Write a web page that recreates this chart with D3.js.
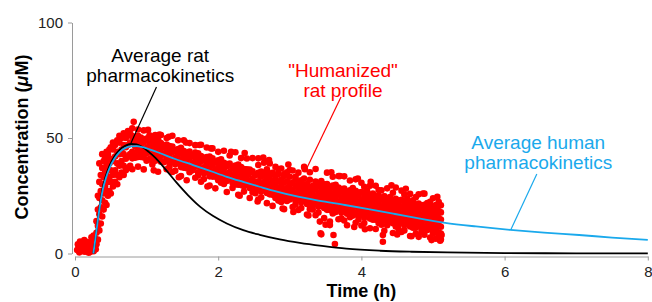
<!DOCTYPE html>
<html>
<head>
<meta charset="utf-8">
<script src="https://cdn.jsdelivr.net/npm/d3@7"></script>
<style>
  body { margin: 0; background: #fff; }
  svg { display: block; font-family: "Liberation Sans", Arial, Helvetica, sans-serif; }
</style>
</head>
<body>
<svg id="chart" width="652" height="302"></svg>
<script>
const xTicks = [0, 2, 4, 6, 8];
const yTicks = [0, 50, 100];

// average rat PK curve (black): [time h, conc uM]
const ratPK = [
  [0.256, 0], [0.29, 7.5], [0.317, 14.5], [0.35, 21.5], [0.387, 28.5], [0.43, 33.5],
  [0.48, 37.8], [0.55, 42], [0.62, 44.8], [0.7, 46.6], [0.78, 47.4], [0.86, 47.2],
  [0.945, 46], [1.03, 44], [1.13, 41.2], [1.27, 36.2], [1.41, 31], [1.58, 25.2],
  [1.75, 20.2], [1.93, 16.2], [2.12, 13], [2.35, 10.1], [2.58, 8.1], [2.86, 6.1],
  [3.14, 4.6], [3.45, 3.3], [3.79, 2.1], [4.26, 1.2], [4.7, 0.75], [5.2, 0.45],
  [6, 0.2], [7, 0.08], [8, 0.04]
];

// average human PK curve (blue)
const humanPK = [
  [0.256, 0], [0.29, 7.5], [0.317, 14], [0.35, 21], [0.387, 27.5], [0.43, 32.5],
  [0.48, 36.8], [0.55, 41], [0.62, 43.8], [0.7, 45.6], [0.78, 46.4], [0.86, 46.5],
  [0.95, 46], [1.05, 45], [1.19, 43.4], [1.41, 40.8], [1.65, 38.3], [1.9, 35.6],
  [2.12, 33.2], [2.35, 31], [2.58, 28.9], [2.82, 26.8], [3.07, 24.9], [3.4, 22.9],
  [3.77, 21], [4.1, 19.2], [4.47, 17.1], [4.8, 15.2], [5.17, 13.3], [5.6, 11.7],
  [6.08, 10.2], [6.55, 9], [7.04, 8], [7.5, 6.9], [8, 5.9]
];

// "humanized" rat samples before dosing: [time, conc]
const predoseSamples = [
  [0.03, 1.5], [0.05, 3], [0.06, 0.5], [0.07, 5.2], [0.08, 2], [0.09, 4.5], [0.11, 1],
  [0.12, 3.5], [0.13, 5.8], [0.14, 0.8], [0.15, 2.5], [0.17, 5], [0.18, 1.5], [0.19, 0.4],
  [0.2, 3.2], [0.21, 0.6], [0.22, 4], [0.23, 7], [0.24, 2], [0.25, 5.5], [0.26, 1],
  [0.27, 3], [0.28, 6.5], [0.29, 1.8], [0.04, 4], [0.1, 2.8], [0.16, 3.8], [0.26, 7.8]
];

// "humanized" rat samples: [time, conc, conc, ...]
const humanizedSamples = [
  [0.30, 4, 9, 14], [0.32, 6, 12, 19, 25], [0.34, 10, 17, 24, 31, 39], [0.36, 13, 20, 27, 34],
  [0.38, 16, 23, 30, 37, 43], [0.40, 19, 26, 33, 40], [0.42, 22, 29, 35, 41],
  [0.44, 21, 27, 34, 39, 44], [0.46, 25, 31, 37, 43], [0.48, 27, 33, 39, 45],
  [0.50, 26, 31, 36, 41, 46], [0.53, 29, 34, 40, 45, 48], [0.56, 31, 36, 42, 47],
  [0.59, 30, 34, 39, 44, 49], [0.62, 33, 38, 43, 48, 51], [0.65, 35, 40, 45, 50],
  [0.68, 34, 38, 43, 47, 52], [0.71, 36, 41, 46, 50], [0.74, 37, 42, 47, 51, 53],
  [0.77, 38, 43, 48, 52],
  [0.80, 36.5, 41.2, 44, 48.3, 50.8, 54.2], [0.84, 41.5, 42.5, 46.4, 49.1, 50.2],
  [0.88, 37.6, 41.8, 44.6, 47.5, 50.9, 53.7], [0.92, 41.8, 43.1, 46.8, 49.4, 50.2],
  [0.96, 36.4, 41.6, 44.9, 48.2, 53.3], [1.00, 40.2, 43.4, 45.8, 49.8, 49.3],
  [1.04, 40.9, 40.7, 44.2, 47.3, 51.2], [1.08, 38.5, 42.9, 45.6, 48.7, 50.6],
  [1.12, 40.1, 41.3, 44.5, 47.1, 51.3], [1.16, 35.4, 40.8, 43.2, 46.4, 49.3, 49],
  [1.20, 39.7, 42.2, 45.3, 47.8, 51.3], [1.24, 39.5, 39.8, 43.1, 46.2, 46.4],
  [1.28, 36.5, 41.1, 44.3, 47.2, 50], [1.32, 37.6, 39.3, 42.4, 45.6, 46.5],
  [1.36, 35.3, 40.4, 43.8, 46.3, 51], [1.40, 35.8, 38.6, 41.4, 44.7, 44.6],
  [1.44, 39.4, 39.7, 42.8, 45.2, 49], [1.48, 33.5, 37.4, 40.6, 43.5, 45.8],
  [1.52, 37.1, 38.8, 41.7, 44.3, 49], [1.56, 31.7, 36.9, 40.2, 43.4, 43.6],
  [1.60, 35.2, 37.8, 41.3, 44.1, 47.8], [1.64, 36, 36.3, 39.2, 42.3, 42.2],
  [1.68, 32.8, 37.6, 40.3, 43.7, 46.9], [1.72, 33.8, 35.2, 38.4, 41.6, 43.4],
  [1.76, 31.1, 36.4, 39.7, 42.2, 47.1], [1.80, 32.2, 34.7, 37.3, 40.8, 41.4],
  [1.84, 35.2, 35.6, 38.7, 41.8, 45.9], [1.88, 29.4, 33.4, 36.8, 40.1, 42],
  [1.92, 33.3, 35.1, 38.2, 41.2, 45.5], [1.96, 28.2, 33.2, 36.3, 39.4, 39.6],
  [2.00, 31.7, 34.2, 37.1, 40.3, 44], [2.04, 30.6, 32.1, 35.4, 38.6, 40.8],
  [2.08, 30.1, 33.6, 36.7, 39.3, 44.5], [2.12, 26.6, 31.4, 34.6, 37.8, 38.7],
  [2.16, 32.5, 32.8, 35.3, 38.9, 42.4], [2.20, 28.4, 30.6, 33.8, 36.9, 37.2],
  [2.24, 29.9, 31.7, 34.9, 38.1, 43.8], [2.28, 25.4, 29.8, 33.2, 36.2, 38.5],
  [2.32, 29.6, 30.9, 34.1, 37.4, 41.3], [2.36, 26.8, 29.1, 32.3, 35.7, 36.6],
  [2.40, 29.9, 30.2, 33.6, 36.4, 41.1], [2.44, 24, 28.4, 31.6, 34.8, 36.3],
  [2.48, 26.5, 29.6, 32.4, 35.6, 41.3], [2.52, 26.1, 27.7, 30.8, 33.9, 34.1],
  [2.56, 23.4, 28.6, 31.3, 34.9, 38.3, 41.2], [2.60, 24.3, 26.8, 30.2, 33.2, 35.5],
  [2.64, 27.6, 27.9, 30.9, 34.1, 39.3], [2.68, 21.8, 26.2, 29.4, 32.6, 35.3, 36.5],
  [2.72, 25.6, 27.2, 30.4, 33.3, 39], [2.76, 20.6, 25.4, 28.7, 31.4, 34.8, 34.9],
  [2.80, 24, 26.7, 29.6, 32.7, 37.5], [2.84, 22.9, 24.8, 28.1, 31.2, 34.3, 36.4],
  [2.88, 22.3, 25.8, 29.2, 31.9, 36.8], [2.92, 19.2, 24.2, 27.4, 30.6, 33.6, 34.4],
  [2.96, 22.7, 25.2, 28.3, 31.3, 35.2], [3.00, 23.4, 23.7, 26.6, 29.8, 33.2, 36.1],
  [3.04, 20.1, 24.6, 27.7, 30.7, 35.9], [3.08, 21.2, 22.8, 26.1, 29.2, 32.1, 33.2],
  [3.12, 18.8, 23.9, 27.2, 30.1, 35], [3.16, 19.7, 22.2, 25.3, 28.4, 31.6, 31.6],
  [3.20, 22.9, 23.3, 26.4, 29.6, 32.4, 37.5], [3.24, 16.9, 21.4, 24.6, 27.7, 30.1],
  [3.28, 19.2, 22.3, 25.6, 28.7, 31.9, 35.2], [3.32, 19.1, 20.7, 23.8, 26.8, 29.3],
  [3.36, 16.6, 21.6, 24.8, 28.1, 31.2, 36.6], [3.40, 17.7, 20.2, 23.2, 26.3, 29.4, 30.4],
  [3.44, 21, 21.1, 24.3, 27.4, 31.4], [3.48, 15.3, 19.7, 22.6, 25.7, 28.8, 30],
  [3.52, 18.9, 20.6, 23.8, 26.9, 30.1, 35], [3.56, 13.8, 18.8, 22.1, 25.2, 28.3, 28.2],
  [3.60, 17.3, 19.9, 23.1, 26.1, 29.4, 33.2], [3.64, 18, 18.3, 21.2, 24.4, 27.6, 29.7],
  [3.68, 14.8, 19.2, 22.4, 25.6, 28.6, 33.5], [3.72, 15.2, 17.7, 20.6, 23.7, 26.8, 27.9],
  [3.76, 14.3, 18.6, 21.8, 24.8, 28.1, 33.4], [3.80, 12.2, 17.2, 20.2, 23.3, 26.4, 26.6],
  [3.84, 15.7, 18.1, 21.3, 24.6, 27.4, 31.6], [3.88, 16.4, 16.6, 19.7, 22.7, 25.9, 28.3],
  [3.92, 13.3, 17.6, 20.8, 23.9, 27.1, 32.1], [3.96, 14.7, 16.2, 19.1, 22.2, 25.4, 26.4],
  [4.00, 12.1, 17.1, 20.4, 23.4, 26.6, 30.6], [4.04, 13.2, 15.6, 18.7, 21.6, 24.9, 28.9],
  [4.08, 16.4, 16.7, 19.8, 22.9, 26.1, 27.2], [4.12, 10.9, 15.1, 18.2, 21.2, 24.3, 29.3],
  [4.16, 14.6, 16.2, 19.4, 22.6, 25.6, 25.9], [4.20, 10.6, 14.6, 17.6, 20.7, 23.9, 29.3],
  [4.24, 13.2, 15.7, 18.9, 22.1, 25.2, 27.5], [4.28, 12.5, 14.1, 17.2, 20.2, 23.4, 27.4],
  [4.32, 9.8, 15.2, 18.4, 21.6, 24.6, 24.8], [4.36, 12.2, 13.6, 16.6, 19.7, 22.9, 28.2],
  [4.40, 14.4, 14.7, 17.9, 21.1, 24.1, 24.4], [4.44, 8.9, 13.1, 16.2, 19.2, 22.4, 26.3],
  [4.48, 11.7, 14.2, 17.4, 20.6, 23.7, 28.6], [4.52, 10.4, 12.6, 15.7, 18.7, 21.9, 22.9],
  [4.56, 9.3, 13.7, 16.9, 20.1, 23.2, 27.2], [4.60, 10, 12.2, 15.2, 18.2, 21.4, 25.5],
  [4.64, 13, 13.2, 16.4, 19.6, 22.7, 23.6], [4.68, 7.6, 11.7, 14.7, 17.7, 20.9, 25.8],
  [4.72, 11.2, 12.7, 15.9, 19.1, 22.2, 23], [4.76, 8.6, 11.2, 14.2, 17.3, 20.4, 24.4],
  [4.80, 7.2, 12.2, 15.4, 18.6, 21.6, 25.6], [4.84, 9.4, 10.7, 13.7, 16.8, 19.9, 20.9],
  [4.88, 8.1, 11.7, 14.9, 18.1, 21.1, 25.9], [4.92, 10.4, 10.2, 13.2, 16.3, 19.4, 21.8],
  [4.96, 6.9, 11.2, 14.4, 17.6, 20.6, 22.4], [5.00, 8.6, 9.7, 12.7, 15.8, 18.9, 23.9],
  [5.04, 6.4, 10.7, 13.9, 17.1, 20.2, 21], [5.08, 8, 9.2, 12.2, 15.3, 18.4, 22.3],
  [5.11, 6.1, 8.6, 11.6, 14.7, 17.8, 20.9]
];

// scattered samples outside the main band
const straySamples = [
  [0.82, 57], [1.02, 53.5], [1.18, 51.5], [1.31, 50.5], [1.55, 48], [1.74, 47], [1.9, 45.5],
  [2.18, 44], [2.37, 43.5], [2.63, 41.5], [2.71, 40.5], [2.98, 38.5], [3.21, 36.5],
  [3.58, 35.2], [3.7, 33.5], [3.95, 32.5], [4.13, 31], [4.42, 29.5], [4.62, 28],
  [4.86, 26], [5.06, 24.5], [1.1, 36], [1.45, 33], [1.85, 29], [2.3, 25], [2.55, 22.5],
  [2.9, 19.5], [3.05, 18], [3.26, 16.5], [3.42, 13.8], [3.43, 8.7], [3.44, 8.3],
  [3.56, 12.3], [3.61, 8], [3.63, 4.1], [3.9, 11.5], [4.3, 8], [4.3, 5.1], [4.5, 8.2],
  [4.7, 7.5], [4.98, 5.8], [5.1, 5.5], [5.12, 8], [3.5, 12.5], [4.05, 10.5]
];

// annotation anchors in data units
const notes = [
  { lines: ['Average rat', 'pharmacokinetics'], color: '#000', at: [1.19, 82.9],
    from: [1.138, 72.1], to: [0.782, 47.8] },
  { lines: ['"Humanized"', 'rat profile'], color: '#ff0000', at: [3.743, 76.4],
    from: [3.715, 67.7], to: [3.212, 35.3] },
  { lines: ['Average human', 'pharmacokinetics'], color: '#1aa9ec', at: [6.47, 45.2],
    from: [6.45, 34.4], to: [6.085, 10.2] }
];

const svg = d3.select('#chart');
const x = d3.scaleLinear().domain([0, 8]).range([75, 647.8]);
const y = d3.scaleLinear().domain([0, 100]).range([253.5, 22.5]);

const dots = predoseSamples.slice();
humanizedSamples.forEach(col => col.slice(1).forEach(c => dots.push([col[0], c])));
straySamples.forEach(d => dots.push(d));

svg.append('g')
  .selectAll('circle')
  .data(dots)
  .join('circle')
  .attr('cx', d => x(d[0]))
  .attr('cy', d => y(d[1]))
  .attr('r', 3.3)
  .attr('fill', '#ff0000');

const line = d3.line()
  .x(d => x(d[0]))
  .y(d => y(d[1]))
  .curve(d3.curveMonotoneX);

svg.append('path')
  .datum(ratPK)
  .attr('d', line)
  .attr('fill', 'none')
  .attr('stroke', '#000')
  .attr('stroke-width', 1.8);

svg.append('path')
  .datum(humanPK)
  .attr('d', line)
  .attr('fill', 'none')
  .attr('stroke', '#1aa9ec')
  .attr('stroke-width', 1.8);

// axes
const xAxis = svg.append('g')
  .attr('transform', 'translate(0,256.5)')
  .call(d3.axisBottom(x).tickValues(xTicks).tickSize(4).tickSizeOuter(0).tickPadding(6));

const yAxis = svg.append('g')
  .attr('transform', 'translate(72,0)')
  .call(d3.axisLeft(y).tickValues(yTicks).tickSize(4).tickSizeOuter(0).tickPadding(5));

[xAxis, yAxis].forEach(g => {
  g.attr('font-family', null).attr('font-size', null);
  g.selectAll('path, line').attr('stroke', '#9a9a9a');
  g.selectAll('text').attr('fill', '#222').style('font-size', '15px');
});

svg.append('text')
  .attr('x', x(4))
  .attr('y', 297)
  .attr('text-anchor', 'middle')
  .style('font-weight', 'bold')
  .style('font-size', '18px')
  .text('Time (h)');

const yTitle = svg.append('text')
  .attr('transform', 'translate(27.5,137) rotate(-90)')
  .attr('text-anchor', 'middle')
  .style('font-weight', 'bold')
  .style('font-size', '18px');
yTitle.append('tspan').text('Concentration (');
yTitle.append('tspan').style('font-style', 'italic').text('\u03bc');
yTitle.append('tspan').text('M)');

// annotations
notes.forEach(n => {
  svg.append('line')
    .attr('x1', x(n.from[0])).attr('y1', y(n.from[1]))
    .attr('x2', x(n.to[0])).attr('y2', y(n.to[1]))
    .attr('stroke', n.color)
    .attr('stroke-width', 1.2);
  const t = svg.append('text')
    .attr('text-anchor', 'middle')
    .attr('fill', n.color)
    .style('font-size', '19px');
  n.lines.forEach((s, i) => {
    t.append('tspan')
      .attr('x', x(n.at[0]))
      .attr('y', y(n.at[1]) + i * 19.5)
      .text(s);
  });
});
</script>
</body>
</html>
